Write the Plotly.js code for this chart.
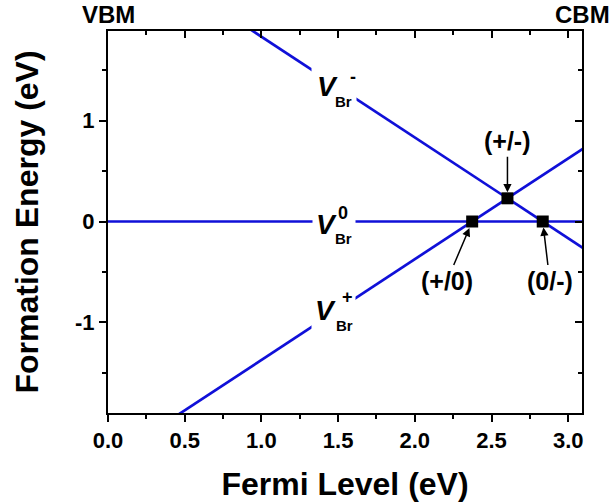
<!DOCTYPE html>
<html>
<head>
<meta charset="utf-8">
<script src="https://cdn.plot.ly/plotly-3.0.1.min.js"></script>
<style>html,body{margin:0;padding:0;background:#fff;}#chart{width:614px;height:503px;}</style>
</head>
<body>
<div id="chart"></div>
<script>
// Fermi level endpoints (eV) and formation energies of each charge state (eV)
const fermiLevel = [0, 3.1];
const vBrMinus = [2.834, -0.266];
const vBrZero = [0, 0];
const vBrPlus = [-2.374, 0.726];
// transition levels
const transX = [2.374, 2.604, 2.834];
const transY = [0, 0.23, 0];
const transLabels = ['(+/0)', '(+/-)', '(0/-)'];
// charge-state labels
const stateNames = ['-', '0', '+'];
const stateLabelY = [1.32, 0, -0.89];
// tick labels
const xTickVals = [0, 0.5, 1, 1.5, 2, 2.5, 3];
const xTickText = ['0.0', '0.5', '1.0', '1.5', '2.0', '2.5', '3.0'];
const yTickVals = [-1, 0, 1];
const yTickText = ['-1', '0', '1'];

const FONT = 'Liberation Sans, Arial, sans-serif';
const BLUE = '#1010d8';

const lineTrace = (y) => ({
  x: fermiLevel, y: y, mode: 'lines', type: 'scatter',
  line: {color: BLUE, width: 2.7}, hoverinfo: 'skip', showlegend: false
});

const traces = [
  lineTrace(vBrMinus), lineTrace(vBrZero), lineTrace(vBrPlus),
  {x: transX, y: transY, mode: 'markers', type: 'scatter', showlegend: false,
   marker: {symbol: 'square', size: 12, color: '#000'}}
];

const annotations = [];
// label layout per state: [box dy, box w, box h, V dx, V dy, Br dx, Br dy, sup dx, sup dy]
const labelGeom = [
  [0, 42, 38, -6.5, 1.5, 10, -13.5, 19.5, 11],
  [-3.3, 40, 32, -7.5, -3.3, 10, -17.3, 9, 8.5],
  [0, 41, 38, -8.5, 1, 10.5, -14, 13.5, 14]
];
stateNames.forEach((s, i) => {
  const g = labelGeom[i];
  const base = {x: 1.47, y: stateLabelY[i], xref: 'x', yref: 'y', showarrow: false,
                xanchor: 'center', yanchor: 'middle'};
  annotations.push(Object.assign({}, base, {text: ' ', bgcolor: '#fff', width: g[1], height: g[2],
                                            yshift: g[0], font: {size: 10}}));
  annotations.push(Object.assign({}, base, {text: 'V', xshift: g[3], yshift: g[4],
    font: {family: FONT, size: 28, color: '#000', style: 'italic', weight: 'bold'}}));
  annotations.push(Object.assign({}, base, {text: 'Br', xshift: g[5], yshift: g[6],
    font: {family: FONT, size: 15, color: '#000', weight: 'bold'}}));
  annotations.push(Object.assign({}, base, {text: s, xshift: g[7], yshift: g[8],
    font: {family: FONT, size: 18, color: '#000', weight: 'bold'}}));
});
// transition level labels with arrows
const arrowGeom = [[-25, 59, 7], [0, -57, 6], [7, 59, 6]];
transLabels.forEach((t, i) => {
  annotations.push({x: transX[i], y: transY[i], xref: 'x', yref: 'y', text: t,
    showarrow: true, ax: arrowGeom[i][0], ay: arrowGeom[i][1], standoff: arrowGeom[i][2],
    arrowhead: 2, arrowsize: 1.1, arrowwidth: 1.5, arrowcolor: '#000',
    font: {family: FONT, size: 25, color: '#000', weight: 'bold'}});
});
// band edge labels
annotations.push({x: 0, y: 1, xref: 'paper', yref: 'paper', yshift: 17, text: 'VBM', showarrow: false,
  xanchor: 'center', yanchor: 'middle', font: {family: FONT, size: 24, color: '#000', weight: 'bold'}});
annotations.push({x: 1, y: 1, xref: 'paper', yref: 'paper', yshift: 17, text: 'CBM', showarrow: false,
  xanchor: 'center', yanchor: 'middle', font: {family: FONT, size: 24, color: '#000', weight: 'bold'}});

const tickFont = {family: FONT, size: 22, color: '#000', weight: 'bold'};
const xr = [0, 3.09], yr = [-1.9, 1.89];
const layout = {
  width: 614, height: 503,
  margin: {l: 108, r: 32, t: 31, b: 90},
  paper_bgcolor: '#fff', plot_bgcolor: '#fff',
  showlegend: false,
  xaxis: {range: xr, tickmode: 'array', tickvals: xTickVals, ticktext: xTickText,
    ticks: 'outside', ticklen: 7, tickwidth: 2,
    tickcolor: '#000', showline: true, linewidth: 2, linecolor: '#000', showgrid: false, zeroline: false,
    minor: {dtick: 0.25, tick0: 0, ticks: 'outside', ticklen: 4, tickwidth: 2, tickcolor: '#000', showgrid: false},
    tickfont: tickFont,
    title: {text: 'Fermi Level (eV)', font: {family: FONT, size: 32, color: '#000', weight: 'bold'}, standoff: 20}},
  xaxis2: {range: xr, overlaying: 'x', side: 'top', dtick: 0.5, tick0: 0, ticks: 'inside', ticklen: 7, tickwidth: 2,
    tickcolor: '#000', showline: true, linewidth: 2, linecolor: '#000', showgrid: false, zeroline: false,
    showticklabels: false,
    minor: {dtick: 0.25, ticks: 'inside', ticklen: 4, tickwidth: 2, tickcolor: '#000', showgrid: false}},
  yaxis: {range: yr, tickmode: 'array', tickvals: yTickVals, ticktext: yTickText,
    ticks: 'outside', ticklen: 7, tickwidth: 2,
    tickcolor: '#000', showline: true, linewidth: 2, linecolor: '#000', showgrid: false, zeroline: false,
    minor: {dtick: 0.5, tick0: 0, ticks: 'outside', ticklen: 4, tickwidth: 2, tickcolor: '#000', showgrid: false},
    tickfont: tickFont,
    title: {text: 'Formation Energy (eV)', font: {family: FONT, size: 32, color: '#000', weight: 'bold'}, standoff: 27}},
  yaxis2: {range: yr, overlaying: 'y', side: 'right', dtick: 1, tick0: 0, ticks: 'inside', ticklen: 7, tickwidth: 2,
    tickcolor: '#000', showline: true, linewidth: 2, linecolor: '#000', showgrid: false, zeroline: false,
    showticklabels: false,
    minor: {dtick: 0.5, ticks: 'inside', ticklen: 4, tickwidth: 2, tickcolor: '#000', showgrid: false}},
  annotations: annotations
};
// invisible traces to activate the mirror axes
traces.push({x: xr, y: yr, xaxis: 'x2', yaxis: 'y2', mode: 'markers', marker: {opacity: 0},
  hoverinfo: 'skip', showlegend: false});

Plotly.newPlot('chart', traces, layout, {displayModeBar: false, staticPlot: true});
</script>
</body>
</html>
